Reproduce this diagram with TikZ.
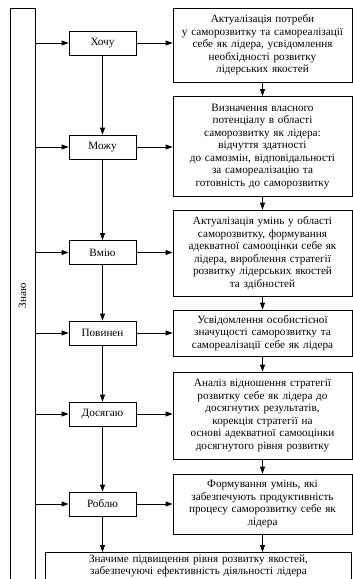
\documentclass[tikz,border=0pt]{standalone}
\usepackage{fontspec}
\setmainfont{Liberation Serif}
\usetikzlibrary{arrows.meta}
\tikzset{
  stagebox/.style={draw, minimum width=67pt, minimum height=24pt, inner sep=2pt},
  descbox/.style={draw, text width=177pt, align=center, inner xsep=1pt, inner ysep=3pt},
}
\begin{document}
\begin{tikzpicture}[x=1pt, y=-1pt, line width=0.8pt, font=\fontsize{11.2}{12.5}\selectfont, >={Triangle[length=7pt,width=5pt]}]
    \clip (0,0) rectangle (353,579);

    % Draw the knowing column on the left
    \node[draw, minimum width=25pt, minimum height=576pt, inner sep=0pt] (know) at (22.5,296) {\rotatebox{90}{Знаю}};

    % Draw the stages
    \node[stagebox] (want) at (102.5,43) {Хочу};
    \node[stagebox] (can) at (102.5,147) {Можу};
    \node[stagebox] (skill) at (102.5,252.5) {Вмію};
    \node[stagebox] (must) at (102.5,333) {Повинен};
    \node[stagebox] (reach) at (102.5,414) {Досягаю};
    \node[stagebox] (do) at (102.5,504) {Роблю};

    % Draw the descriptions of the stages
    \node[descbox, minimum height=74pt] (wantd) at (262.5,45) {Актуалізація потреби\\ у саморозвитку та самореалізації\\ себе як лідера, усвідомлення\\ необхідності розвитку\\ лідерських якостей};
    \node[descbox, minimum height=100pt] (cand) at (262.5,146.5) {Визначення власного\\ потенціалу в області\\ саморозвитку як лідера:\\ відчуття здатності\\ до самозмін, відповідальності\\ за самореалізацію та\\ готовність до саморозвитку};
    \node[descbox, minimum height=86pt] (skilld) at (262.5,253) {Актуалізація умінь у області\\ саморозвитку, формування\\ адекватної самооцінки себе як\\ лідера, вироблення стратегії\\ розвитку лідерських якостей\\ та здібностей};
    \node[descbox, minimum height=46pt] (mustd) at (262.5,333) {Усвідомлення особистісної\\ значущості саморозвитку та\\ самореалізації себе як лідера};
    \node[descbox, minimum height=87pt] (reachd) at (262.5,415.5) {Аналіз відношення стратегії\\ розвитку себе як лідера до\\ досягнутих результатів,\\ корекція стратегії на\\ основі адекватної самооцінки\\ досягнутого рівня розвитку};
    \node[descbox, minimum height=60pt] (dod) at (262.5,504) {Формування умінь, які\\ забезпечують продуктивність\\ процесу саморозвитку себе як\\ лідера};

    % Draw the result at the bottom, running off the page
    \node[text width=301pt, align=center, inner sep=2pt, anchor=north] (result) at (198.5,552) {Значиме підвищення рівня розвитку якостей,\\ забезпечуючі ефективність діяльності лідера};
    \draw (result.north west) rectangle ([yshift=-20pt]result.south east);

    % Arrows from the knowing column to the stages
    \draw[->] (want.west -| know.east) -- (want.west);
    \draw[->] (can.west -| know.east) -- (can.west);
    \draw[->] (skill.west -| know.east) -- (skill.west);
    \draw[->] (must.west -| know.east) -- (must.west);
    \draw[->] (reach.west -| know.east) -- (reach.west);
    \draw[->] (do.west -| know.east) -- (do.west);

    % Arrows from the stages to their descriptions
    \draw[->] (want.east) -- (want.east -| wantd.west);
    \draw[->] (can.east) -- (can.east -| cand.west);
    \draw[->] (skill.east) -- (skill.east -| skilld.west);
    \draw[->] (must.east) -- (must.east -| mustd.west);
    \draw[->] (reach.east) -- (reach.east -| reachd.west);
    \draw[->] (do.east) -- (do.east -| dod.west);

    % Arrows down the stages
    \draw[->] (want) -- (can);
    \draw[->] (can) -- (skill);
    \draw[->] (skill) -- (must);
    \draw[->] (must) -- (reach);
    \draw[->] (reach) -- (do);
    \draw[->] (do) -- (do |- result.north);

    % Arrows down the descriptions
    \draw[->] (wantd) -- (cand);
    \draw[->] (cand) -- (skilld);
    \draw[->] (skilld) -- (mustd);
    \draw[->] (mustd) -- (reachd);
    \draw[->] (reachd) -- (dod);
    \draw[->] (dod) -- (dod |- result.north);
\end{tikzpicture}
\end{document}
